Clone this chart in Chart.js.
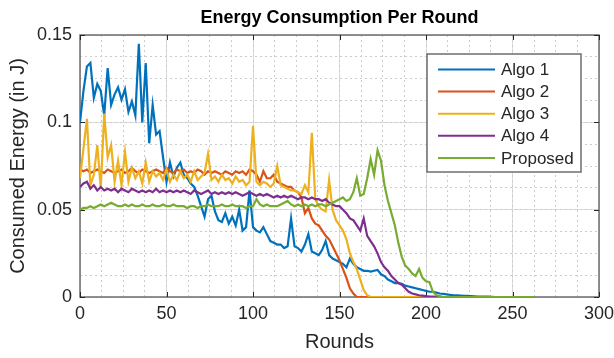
<!DOCTYPE html>
<html>
<head>
<meta charset="utf-8">
<title>Energy Consumption Per Round</title>
<script src="https://cdn.jsdelivr.net/npm/chart.js@4.4.1/dist/chart.umd.min.js"></script>
<style>
  html, body { margin: 0; padding: 0; background: #fff; }
  #wrap { width: 614px; height: 358px; }
</style>
</head>
<body>
<div id="wrap"><canvas id="chart" width="614" height="358"></canvas></div>
<script>
// ---- Data (one value every 2 rounds) ----
const rounds = [
  0, 2, 4, 6, 8, 10, 12, 14, 16, 18,
  20, 22, 24, 26, 28, 30, 32, 34, 36, 38,
  40, 42, 44, 46, 48, 50, 52, 54, 56, 58,
  60, 62, 64, 66, 68, 70, 72, 74, 76, 78,
  80, 82, 84, 86, 88, 90, 92, 94, 96, 98,
  100, 102, 104, 106, 108, 110, 112, 114, 116, 118,
  120, 122, 124, 126, 128, 130, 132, 134, 136, 138,
  140, 142, 144, 146, 148, 150, 152, 154, 156, 158,
  160, 162, 164, 166, 168, 170, 172, 174, 176, 178,
  180, 182, 184, 186, 188, 190, 192, 194, 196, 198,
  200, 202, 204, 206, 208, 210, 212, 214, 216, 218,
  220, 222, 224, 226, 228, 230, 232, 234, 236, 238,
  240, 242, 244, 246, 248, 250, 252, 254, 256, 258, 260, 262
];

const algo1 = [
  0.100, 0.118, 0.132, 0.134, 0.114, 0.122, 0.118, 0.104, 0.131, 0.110,
  0.116, 0.120, 0.113, 0.119, 0.106, 0.112, 0.104, 0.145, 0.100, 0.134,
  0.088, 0.110, 0.093, 0.095, 0.080, 0.066, 0.077, 0.069, 0.074, 0.077,
  0.070, 0.068, 0.065, 0.063, 0.058, 0.052, 0.046, 0.056, 0.058, 0.049,
  0.044, 0.043, 0.048, 0.042, 0.046, 0.041, 0.050, 0.038, 0.040, 0.061,
  0.040, 0.038, 0.037, 0.040, 0.036, 0.032, 0.031, 0.030, 0.030, 0.028,
  0.029, 0.045, 0.029, 0.028, 0.026, 0.030, 0.036, 0.026, 0.025, 0.024,
  0.027, 0.032, 0.024, 0.022, 0.021, 0.020, 0.019, 0.017, 0.022, 0.019,
  0.017, 0.016, 0.015, 0.015, 0.0145, 0.015, 0.0155, 0.013, 0.012, 0.010,
  0.009, 0.008, 0.008, 0.0075, 0.0065, 0.006, 0.0055, 0.005, 0.0045, 0.004,
  0.0035, 0.003, 0.003, 0.0025, 0.002, 0.0018, 0.0015, 0.0012, 0.001, 0.0009,
  0.0008, 0.0007, 0.0006, 0.0005, 0.0004, 0.0003, 0.0003, 0.0002, 0.0002, 0.0001,
  0, 0, 0, 0, 0, 0, 0, 0, 0, 0, 0, 0
];

const algo2 = [
  0.073, 0.072, 0.073, 0.071, 0.072, 0.073, 0.072, 0.071, 0.073, 0.072,
  0.071, 0.072, 0.073, 0.071, 0.072, 0.074, 0.072, 0.071, 0.073, 0.072,
  0.071, 0.072, 0.073, 0.072, 0.071, 0.074, 0.072, 0.071, 0.073, 0.072,
  0.073, 0.071, 0.072, 0.071, 0.073, 0.072, 0.070, 0.072, 0.071, 0.072,
  0.071, 0.070, 0.072, 0.071, 0.070, 0.072, 0.071, 0.072, 0.070, 0.073,
  0.072, 0.070, 0.066, 0.072, 0.068, 0.068, 0.070, 0.066, 0.065, 0.064,
  0.063, 0.063, 0.061, 0.060, 0.057, 0.048, 0.051, 0.045, 0.042, 0.041,
  0.038, 0.035, 0.033, 0.029, 0.025, 0.021, 0.016, 0.011, 0.005, 0.002,
  0, 0, 0, 0, 0, 0, 0, 0, 0, 0,
  0, 0, 0, 0, 0, 0, 0, 0, 0, 0,
  0, 0, 0, 0, 0, 0, 0, 0, 0, 0,
  0, 0, 0, 0, 0, 0, 0, 0, 0, 0,
  0, 0, 0, 0, 0, 0, 0, 0, 0, 0, 0, 0
];

const algo3 = [
  0.068, 0.085, 0.102, 0.064, 0.070, 0.087, 0.062, 0.105, 0.080, 0.087,
  0.066, 0.078, 0.064, 0.083, 0.066, 0.074, 0.068, 0.072, 0.065, 0.077,
  0.066, 0.072, 0.069, 0.071, 0.067, 0.073, 0.066, 0.070, 0.067, 0.072,
  0.068, 0.070, 0.066, 0.072, 0.067, 0.069, 0.071, 0.082, 0.067, 0.069,
  0.066, 0.070, 0.067, 0.068, 0.065, 0.069, 0.066, 0.067, 0.064, 0.066,
  0.098, 0.066, 0.064, 0.066, 0.065, 0.063, 0.065, 0.075, 0.064, 0.063,
  0.062, 0.061, 0.061, 0.060, 0.059, 0.064, 0.060, 0.094, 0.056, 0.052,
  0.050, 0.049, 0.067, 0.050, 0.044, 0.041, 0.038, 0.033, 0.025, 0.020,
  0.016, 0.010, 0.004, 0.001, 0, 0, 0, 0, 0, 0,
  0, 0, 0, 0, 0, 0, 0, 0, 0, 0,
  0, 0, 0, 0, 0, 0, 0, 0, 0, 0,
  0, 0, 0, 0, 0, 0, 0, 0, 0, 0,
  0, 0, 0, 0, 0, 0, 0, 0, 0, 0, 0, 0
];

const algo4 = [
  0.063, 0.065, 0.066, 0.062, 0.064, 0.061, 0.063, 0.061, 0.062, 0.061,
  0.062, 0.060, 0.062, 0.061, 0.060, 0.062, 0.061, 0.060, 0.061, 0.060,
  0.061, 0.060, 0.062, 0.060, 0.061, 0.060, 0.061, 0.060, 0.061, 0.060,
  0.061, 0.060, 0.059, 0.061, 0.060, 0.059, 0.060, 0.061, 0.059, 0.060,
  0.059, 0.060, 0.059, 0.060, 0.059, 0.060, 0.059, 0.058, 0.059, 0.060,
  0.059, 0.058, 0.059, 0.058, 0.059, 0.058, 0.057, 0.058, 0.057, 0.058,
  0.057, 0.058, 0.057, 0.056, 0.057, 0.057, 0.056, 0.057, 0.056, 0.056,
  0.055, 0.056, 0.054, 0.053, 0.052, 0.052, 0.050, 0.048, 0.045, 0.044,
  0.041, 0.038, 0.045, 0.035, 0.032, 0.029, 0.025, 0.020, 0.017, 0.015,
  0.012, 0.010, 0.008, 0.007, 0.005, 0.003, 0.002, 0.0015, 0.001, 0.0008,
  0.0005, 0.0003, 0.0002, 0.0001, 0, 0, 0, 0, 0, 0,
  0, 0, 0, 0, 0, 0, 0, 0, 0, 0,
  0, 0, 0, 0, 0, 0, 0, 0, 0, 0, 0, 0
];

const proposed = [
  0.050, 0.051, 0.051, 0.052, 0.051, 0.052, 0.053, 0.052, 0.053, 0.054,
  0.053, 0.052, 0.052, 0.053, 0.052, 0.053, 0.052, 0.052, 0.053, 0.052,
  0.052, 0.053, 0.052, 0.052, 0.053, 0.052, 0.052, 0.053, 0.052, 0.052,
  0.052, 0.051, 0.052, 0.052, 0.051, 0.052, 0.052, 0.053, 0.052, 0.052,
  0.052, 0.053, 0.052, 0.052, 0.053, 0.052, 0.052, 0.052, 0.051, 0.052,
  0.052, 0.056, 0.053, 0.052, 0.053, 0.052, 0.052, 0.052, 0.053, 0.054,
  0.055, 0.053, 0.052, 0.053, 0.052, 0.053, 0.052, 0.053, 0.052, 0.053,
  0.053, 0.052, 0.053, 0.054, 0.055, 0.056, 0.057, 0.055, 0.056, 0.060,
  0.068, 0.058, 0.059, 0.068, 0.079, 0.070, 0.084, 0.078, 0.064, 0.055,
  0.048, 0.041, 0.031, 0.023, 0.018, 0.016, 0.0135, 0.012, 0.016, 0.011,
  0.009, 0.0085, 0.003, 0.001, 0.0005, 0, 0, 0, 0, 0,
  0, 0, 0, 0, 0, 0, 0, 0, 0, 0,
  0, 0, 0, 0, 0, 0, 0, 0, 0, 0, 0, 0
];

const seriesNames = ['Algo 1', 'Algo 2', 'Algo 3', 'Algo 4', 'Proposed'];
const seriesValues = [algo1, algo2, algo3, algo4, proposed];
const seriesColors = ['#0072BD', '#D95319', '#EDB120', '#7E2F8E', '#77AC30'];

const TEXT = '#262626';
Chart.defaults.font.family = "'Liberation Sans', Arial, Helvetica, sans-serif";

// ---- MATLAB-like box with inward tick marks ----
const axesBox = {
  id: 'axesBox',
  beforeDatasetsDraw(chart) {
    const { ctx, chartArea: a, scales } = chart;
    ctx.save();
    ctx.strokeStyle = '#6e6e6e';
    ctx.lineWidth = 1.5;
    ctx.strokeRect(a.left, a.top, a.right - a.left, a.bottom - a.top);
    ctx.strokeStyle = TEXT;
    ctx.lineWidth = 1;
    ctx.beginPath();
    scales.x.ticks.forEach(t => {
      const px = Math.round(scales.x.getPixelForValue(t.value)) + 0.5;
      ctx.moveTo(px, a.bottom); ctx.lineTo(px, a.bottom - 5);
      ctx.moveTo(px, a.top); ctx.lineTo(px, a.top + 5);
    });
    scales.y.ticks.forEach(t => {
      const py = Math.round(scales.y.getPixelForValue(t.value)) + 0.5;
      ctx.moveTo(a.left, py); ctx.lineTo(a.left + 5, py);
      ctx.moveTo(a.right, py); ctx.lineTo(a.right - 5, py);
    });
    ctx.stroke();
    ctx.restore();
  }
};

// ---- Legend box inside the axes (upper right) ----
const boxLegend = {
  id: 'boxLegend',
  afterDatasetsDraw(chart) {
    const { ctx, chartArea: a } = chart;
    const w = 154, h = 118;
    const x0 = a.right - 18 - w, y0 = a.top + 19;
    ctx.save();
    ctx.fillStyle = '#fff';
    ctx.fillRect(x0, y0, w, h);
    ctx.strokeStyle = '#6e6e6e';
    ctx.lineWidth = 1.5;
    ctx.strokeRect(x0, y0, w, h);
    ctx.font = "17px 'Liberation Sans', Arial, sans-serif";
    ctx.textBaseline = 'middle';
    ctx.fillStyle = TEXT;
    chart.data.datasets.forEach((ds, i) => {
      const y = y0 + 15.5 + i * 22.1;
      ctx.strokeStyle = ds.borderColor;
      ctx.lineWidth = 2;
      ctx.beginPath();
      ctx.moveTo(x0 + 11, y); ctx.lineTo(x0 + 68, y);
      ctx.stroke();
      ctx.fillText(ds.label, x0 + 74, y + 1);
    });
    ctx.restore();
  }
};

new Chart(document.getElementById('chart'), {
  type: 'line',
  data: {
    labels: rounds,
    datasets: seriesValues.map((vals, i) => ({
      label: seriesNames[i],
      data: vals,
      xAxisID: 'x',
      yAxisID: 'y',
      borderColor: seriesColors[i],
      backgroundColor: seriesColors[i],
      borderWidth: 2.2,
      pointRadius: 0,
      tension: 0,
      order: seriesValues.length - 1 - i
    }))
  },
  options: {
    responsive: false,
    animation: false,
    devicePixelRatio: 1,
    layout: { padding: { left: 0, right: 0, top: 0, bottom: 0 } },
    plugins: {
      legend: { display: false },
      tooltip: { enabled: false },
      title: {
        display: true,
        text: 'Energy Consumption Per Round',
        fullSize: false,
        color: '#000',
        font: { size: 18, weight: 'bold' },
        padding: { top: 7, bottom: 6.4 }
      }
    },
    scales: {
      x: {
        type: 'linear',
        position: 'bottom',
        min: 0, max: 300,
        afterFit: s => { s.height = 61; s.paddingRight = 15; },
        ticks: { stepSize: 50, padding: 6, maxRotation: 0, color: TEXT, font: { size: 18 } },
        grid: { color: '#dcdcdc', drawTicks: false },
        border: { display: false },
        title: { display: true, text: 'Rounds', color: TEXT, font: { size: 20 }, padding: { top: 0, bottom: 4 } }
      },
      y: {
        position: 'left',
        min: 0, max: 0.15,
        afterFit: s => { s.width = 80; },
        ticks: { stepSize: 0.05, padding: 8, color: TEXT, font: { size: 18 },
          callback: v => String(+Number(v).toFixed(3)) },
        grid: { color: '#dcdcdc', drawTicks: false },
        border: { display: false },
        title: { display: true, text: 'Consumed Energy (in J)', color: TEXT, font: { size: 20 }, padding: { top: 6, bottom: 0 } }
      },
      xMinor: {
        axis: 'x',
        type: 'linear',
        position: 'bottom',
        min: 0, max: 300,
        afterFit: s => { s.height = 0; s.paddingRight = 0; s.paddingLeft = 0; },
        ticks: { display: false, stepSize: 12.5 },
        grid: { color: '#cccccc', drawTicks: false },
        border: { display: false, dash: [2, 3] }
      },
      yMinor: {
        axis: 'y',
        type: 'linear',
        position: 'left',
        min: 0, max: 0.15,
        afterFit: s => { s.width = 0; s.paddingTop = 0; s.paddingBottom = 0; },
        ticks: { display: false, stepSize: 0.0125 },
        grid: { color: '#cccccc', drawTicks: false },
        border: { display: false, dash: [2, 3] }
      }
    }
  },
  plugins: [axesBox, boxLegend]
});
</script>
</body>
</html>
